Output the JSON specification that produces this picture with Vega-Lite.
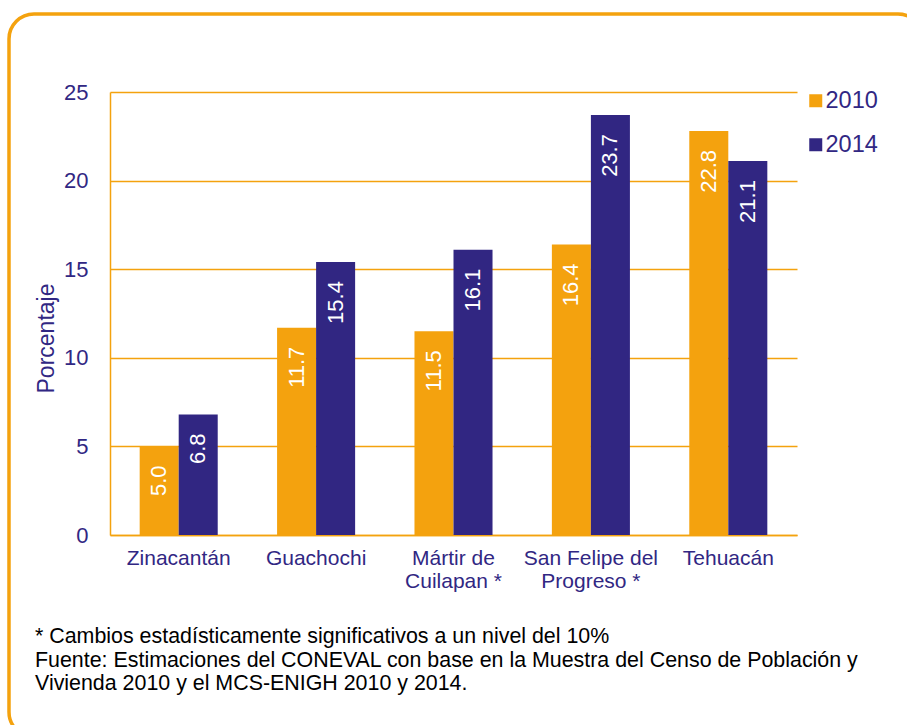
{
  "$schema": "https://vega.github.io/schema/vega-lite/v6.json",
  "width": 914,
  "height": 723,
  "autosize": {"type": "none"},
  "padding": {"left": 9, "top": 14, "right": -16, "bottom": -12},
  "background": "white",
  "title": {
    "text": ["* Cambios estadísticamente significativos a un nivel del 10%", "Fuente: Estimaciones del CONEVAL con base en la Muestra del Censo de Población y", "Vivienda 2010 y el MCS-ENIGH 2010 y 2014."],
    "orient": "bottom",
    "anchor": "start",
    "frame": "group",
    "offset": -111,
    "dx": 26,
    "baseline": "top",
    "font": "Liberation Sans",
    "fontSize": 21.4,
    "fontWeight": "normal",
    "color": "#000000",
    "lineHeight": 23.5
  },
  "data": {
    "values": [
      {"municipio": "Zinacantán", "anio": "2010", "valor": 5.0},
      {"municipio": "Zinacantán", "anio": "2014", "valor": 6.8},
      {"municipio": "Guachochi", "anio": "2010", "valor": 11.7},
      {"municipio": "Guachochi", "anio": "2014", "valor": 15.4},
      {"municipio": "Mártir de Cuilapan *", "anio": "2010", "valor": 11.5},
      {"municipio": "Mártir de Cuilapan *", "anio": "2014", "valor": 16.1},
      {"municipio": "San Felipe del Progreso *", "anio": "2010", "valor": 16.4},
      {"municipio": "San Felipe del Progreso *", "anio": "2014", "valor": 23.7},
      {"municipio": "Tehuacán", "anio": "2010", "valor": 22.8},
      {"municipio": "Tehuacán", "anio": "2014", "valor": 21.1}
    ]
  },
  "encoding": {
    "x": {
      "field": "municipio",
      "type": "nominal",
      "sort": null,
      "scale": {"range": [101, 788], "paddingInner": 0.432, "paddingOuter": 0.216},
      "axis": {
        "title": null,
        "offset": -202,
        "labelAngle": 0,
        "ticks": false,
        "labelPadding": 12,
        "labelFont": "Liberation Sans",
        "labelFontSize": 21,
        "labelColor": "#312783",
        "labelLineHeight": 23,
        "labelExpr": "datum.label == 'Mártir de Cuilapan *' ? ['Mártir de', 'Cuilapan *'] : datum.label == 'San Felipe del Progreso *' ? ['San Felipe del', 'Progreso *'] : datum.label",
        "domainColor": "#F4A20E",
        "domainWidth": 1.5
      }
    },
    "xOffset": {
      "field": "anio",
      "type": "nominal",
      "scale": {"paddingInner": 0, "paddingOuter": 0}
    },
    "y": {
      "field": "valor",
      "type": "quantitative",
      "scale": {"domain": [0, 25], "range": [521, 78], "nice": false},
      "axis": {
        "title": "Porcentaje",
        "values": [0, 5, 10, 15, 20, 25],
        "offset": -101,
        "ticks": false,
        "labelPadding": 22,
        "labelFont": "Liberation Sans",
        "labelFontSize": 22,
        "labelColor": "#312783",
        "domainColor": "#F4A20E",
        "domainWidth": 1.5,
        "grid": true,
        "gridColor": "#F4A20E",
        "gridWidth": 1.5,
        "gridOpacity": 1,
        "titleFont": "Liberation Sans",
        "titleFontSize": 23,
        "titleFontWeight": "normal",
        "titleColor": "#312783",
        "titleX": -52,
        "titleY": 324
      }
    }
  },
  "layer": [
    {
      "mark": {"type": "bar"},
      "encoding": {
        "color": {
          "field": "anio",
          "type": "nominal",
          "scale": {"domain": ["2010", "2014"], "range": ["#F4A20E", "#312682"]},
          "legend": {
            "title": null,
            "orient": "none",
            "legendX": 795,
            "legendY": 75,
            "padding": 0,
            "symbolType": "square",
            "symbolSize": 169,
            "symbolOpacity": 1,
            "symbolStrokeWidth": 0,
            "labelFont": "Liberation Sans",
            "labelFontSize": 23.5,
            "labelColor": "#312783",
            "labelOffset": -2,
            "rowPadding": 19
          }
        }
      }
    },
    {
      "mark": {"type": "text", "angle": 270, "align": "right", "baseline": "middle", "dx": -19, "font": "Liberation Sans", "fontSize": 22, "color": "#FFFFFF"},
      "encoding": {
        "text": {"field": "valor", "type": "quantitative", "format": ".1f"}
      }
    }
  ],
  "config": {
    "view": {"stroke": "#F4A20E", "strokeWidth": 3.5, "cornerRadius": 25}
  }
}
